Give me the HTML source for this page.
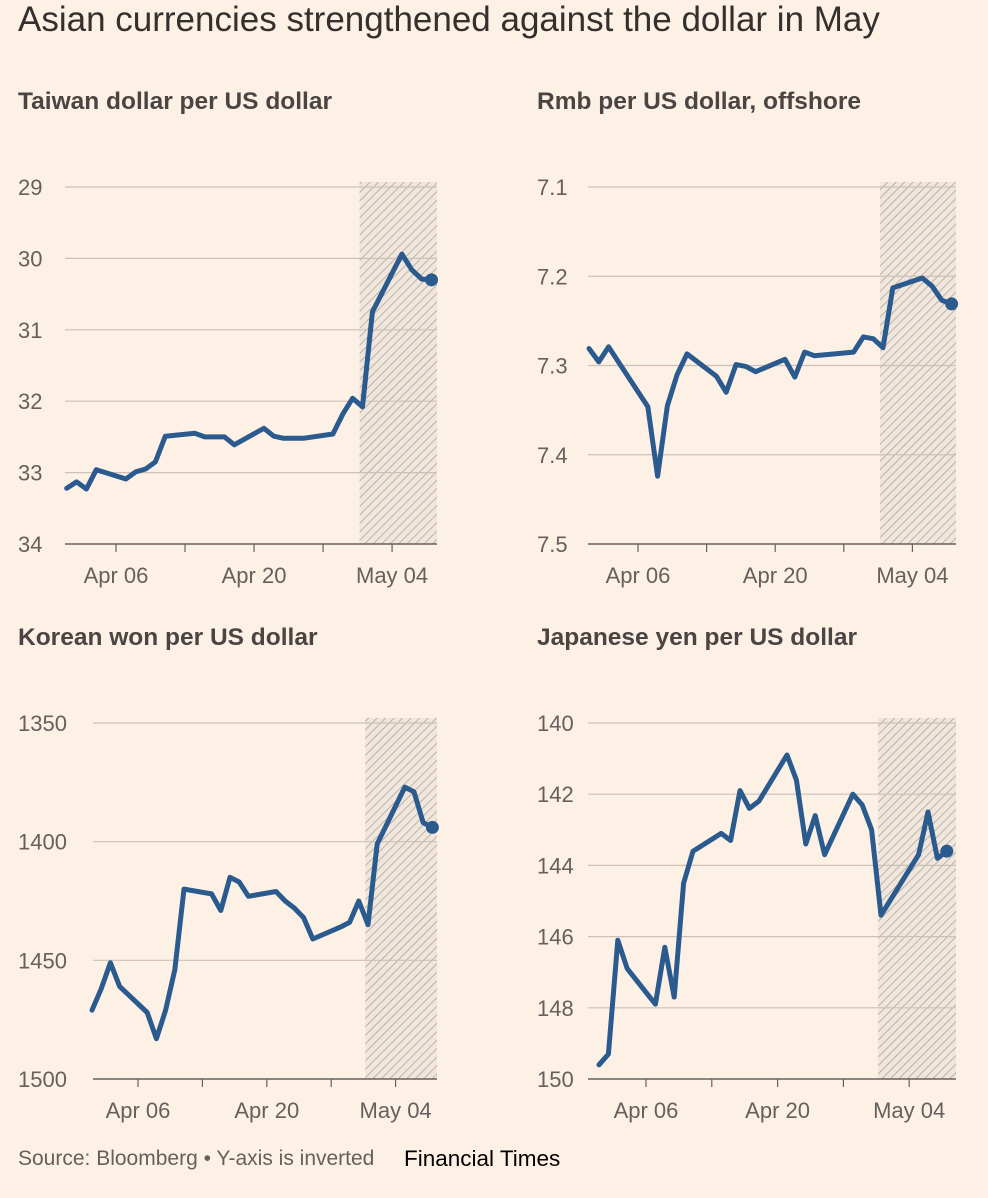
<!DOCTYPE html>
<html><head><meta charset="utf-8">
<style>
html,body{margin:0;padding:0;background:#fdf1e6;}
body{width:988px;height:1198px;position:relative;overflow:hidden;font-family:"Liberation Sans",sans-serif;}
#title{position:absolute;left:18px;top:0px;font-size:35px;color:#33302e;}
.pt{position:absolute;font-size:24.5px;font-weight:bold;color:#4a4542;}
#src{position:absolute;left:18px;top:1147px;font-size:21px;color:#66605c;}
#ft{position:absolute;left:404px;top:1146px;font-size:22.5px;color:#000;}
svg{position:absolute;left:0;top:0;}
</style></head><body>
<div id="title">Asian currencies strengthened against the dollar in May</div>
<div class="pt" style="left:18px;top:88px">Taiwan dollar per US dollar</div>
<div class="pt" style="left:537px;top:88px">Rmb per US dollar, offshore</div>
<div class="pt" style="left:18px;top:624px">Korean won per US dollar</div>
<div class="pt" style="left:537px;top:624px">Japanese yen per US dollar</div>
<div id="src">Source: Bloomberg • Y-axis is inverted</div>
<div id="ft">Financial Times</div>
<svg id="chart" width="988" height="1198">
<defs><pattern id="hatch" width="6" height="6" patternUnits="userSpaceOnUse" patternTransform="rotate(45)"><rect width="6" height="6" fill="#f0e6dc"/><line x1="0" y1="0" x2="0" y2="6" stroke="#a8a29c" stroke-width="1.5"/></pattern></defs>
</svg>
<script>
// Day numbers: 1 = Apr 1, 31 = May 1
const twDays=[1,2,3,4,7,8,9,10,11,14,15,17,18,21,22,23,25,28,29,30,31,32,35,36,37,38];
const twVals=[33.22,33.13,33.23,32.96,33.09,32.99,32.95,32.85,32.49,32.45,32.5,32.5,32.61,32.38,32.49,32.52,32.52,32.46,32.18,31.96,32.08,30.75,29.94,30.16,30.29,30.3];
const twTicks=[29,30,31,32,33,34];
const rmbDays=[1,2,3,4,7,8,9,10,11,14,15,16,17,18,21,22,23,24,28,29,30,31,32,35,36,37,38];
const rmbVals=[7.281,7.296,7.279,7.296,7.346,7.424,7.345,7.31,7.287,7.312,7.33,7.299,7.301,7.307,7.293,7.313,7.285,7.289,7.285,7.268,7.27,7.28,7.213,7.202,7.211,7.227,7.231];
const rmbTicks=[7.1,7.2,7.3,7.4,7.5];
const krwDays=[1,2,3,4,7,8,9,10,11,14,15,16,17,18,21,22,23,24,25,28,29,30,31,32,35,36,37,38];
const krwVals=[1471,1462,1451,1461,1472,1483,1471,1454,1420,1422,1429,1415,1417,1423,1421,1425,1428,1432,1441,1436,1434,1425,1435,1401,1377,1379,1392,1394];
const krwTicks=[1350,1400,1450,1500];
const jpyDays=[1,2,3,4,7,8,9,10,11,14,15,16,17,18,21,22,23,24,25,28,29,30,31,35,36,37,38];
const jpyVals=[149.6,149.3,146.1,146.9,147.9,146.3,147.7,144.5,143.6,143.1,143.3,141.9,142.4,142.2,140.9,141.6,143.4,142.6,143.7,142.0,142.3,143.0,145.4,143.7,142.5,143.8,143.6];
const jpyTicks=[140,142,144,146,148,150];
const dateTicks=["Apr 06","Apr 20","May 04"];
const dateTickDays=[6,20,34];
const shadeStart=30.7;

const NS="http://www.w3.org/2000/svg";
const svg=document.getElementById('chart');
function mk(t,a,p){const e=document.createElementNS(NS,t);for(const k in a)e.setAttribute(k,a[k]);(p||svg).appendChild(e);return e;}
function panel(name,cfg,days,vals,ticks){
  const g=mk('g',{});
  
  
  const y=v=>cfg.y0+(v-ticks[0])/(ticks[ticks.length-1]-ticks[0])*(cfg.y1-cfg.y0);
  const x=d=>cfg.xa+(d-6)*cfg.ppd;
  const sh=mk('rect',{x:x(shadeStart),y:cfg.y0-5,width:cfg.gx1-x(shadeStart),height:cfg.y1-cfg.y0+5,fill:'url(#hatch)'},g);
  
  
  ticks.forEach((t,i)=>{
    const last=i===ticks.length-1;
    const l=mk('line',{x1:cfg.gx0,x2:cfg.gx1,y1:y(t),y2:y(t),stroke:last?'#66605c':'#ccc1b7','stroke-width':last?1.5:1.2},g);
    
    
    const tx=mk('text',{x:cfg.lx,y:y(t)+8,'font-size':22,fill:'#66605c'},g);
    tx.textContent=String(t);
    
    
  });
  for(let d=6;d<=34;d+=7){
    mk('line',{x1:x(d),x2:x(d),y1:cfg.y1,y2:cfg.y1+8,stroke:'#66605c','stroke-width':1.2},g);
  }
  dateTicks.forEach((lab,i)=>{
    const tx=mk('text',{x:x(dateTickDays[i]),y:cfg.y1+39,'font-size':22,fill:'#66605c','text-anchor':'middle'},g);
    tx.textContent=lab;
    
    
  });
  const pts=days.map((d,i)=>x(d).toFixed(1)+','+y(vals[i]).toFixed(1)).join(' ');
  const pl=mk('polyline',{points:pts,fill:'none',stroke:'#2a5a8e','stroke-width':5,'stroke-linejoin':'round','stroke-linecap':'round'},g);
  
  
  const n=days.length-1;
  const c=mk('circle',{cx:x(days[n]),cy:y(vals[n]),r:6.5,fill:'#2a5a8e'},g);
  
  
}
panel('taiwan',{y0:187,y1:544,xa:116,ppd:9.86,gx0:65,gx1:437,lx:18},twDays,twVals,twTicks);
panel('rmb',{y0:187,y1:544,xa:638,ppd:9.8,gx0:588,gx1:956,lx:537},rmbDays,rmbVals,rmbTicks);
panel('won',{y0:723,y1:1079,xa:138,ppd:9.2,gx0:93,gx1:437,lx:18},krwDays,krwVals,krwTicks);
panel('yen',{y0:723,y1:1079,xa:646,ppd:9.4,gx0:588,gx1:956,lx:537},jpyDays,jpyVals,jpyTicks);
</script>
</body></html>
